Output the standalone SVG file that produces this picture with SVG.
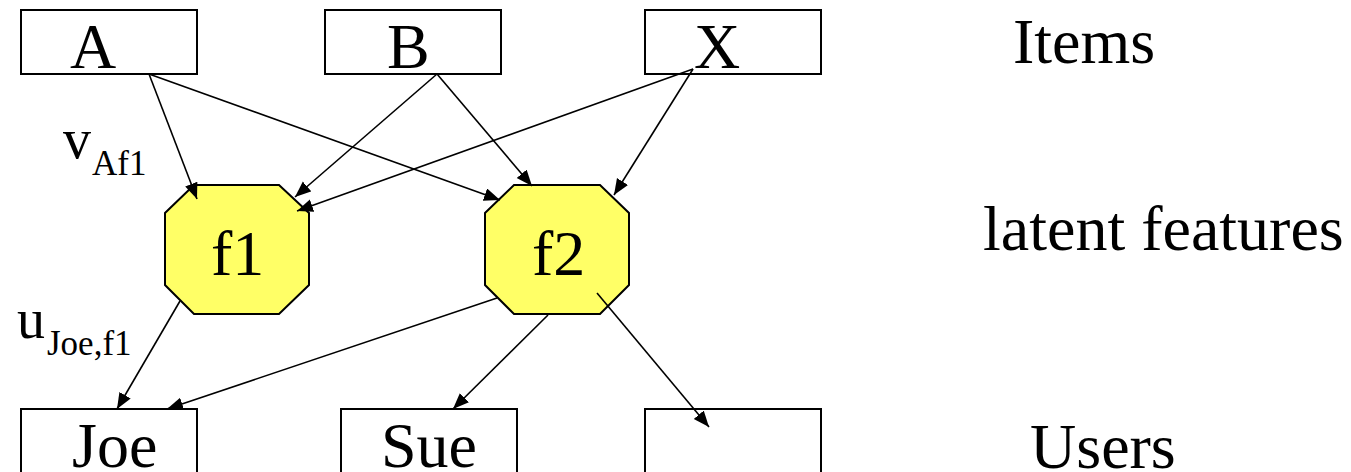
<svg xmlns="http://www.w3.org/2000/svg" width="1351" height="472" viewBox="0 0 1351 472">
<style>
.box{fill:none;stroke:#000;stroke-width:2}
.oct{fill:#FFFF66;stroke:#000;stroke-width:2}
.t{font-family:'Liberation Serif','Times New Roman',serif;font-size:64px;fill:#000}
.lab{font-family:'Liberation Serif','Times New Roman',serif;font-size:56px;fill:#000}
.sub{font-size:35px}
.edge{stroke:#000;stroke-width:1.6;fill:none;marker-end:url(#ah)}
</style>
<defs>
<marker id="ah" markerUnits="userSpaceOnUse" markerWidth="18" markerHeight="14" refX="16" refY="6.5" orient="auto">
<path d="M0,0 L16,6.5 L0,13 z" fill="#000"/>
</marker>
</defs>
<rect width="1351" height="472" fill="#fff"/>
<g id="A"><rect class="box" x="21" y="10" width="176" height="64"/><text class="t" x="70" y="68">A</text></g>
<g id="B"><rect class="box" x="325" y="10" width="176" height="64"/><text class="t" x="387" y="68">B</text></g>
<g id="X"><rect class="box" x="645" y="10" width="176" height="64"/><text class="t" x="694" y="68">X</text></g>
<g id="f1"><polygon class="oct" points="194,185 279,185 309,213 309,285 279,314 194,314 165,285 165,213"/><text class="t" x="211" y="275">f1</text></g>
<g id="f2"><polygon class="oct" points="514,185 600,185 629,213 629,285 600,314 514,314 485,285 485,213"/><text class="t" x="532" y="275">f2</text></g>
<g id="Joe"><rect class="box" x="21" y="409" width="176" height="70"/><text class="t" x="72" y="467">Joe</text></g>
<g id="Sue"><rect class="box" x="341" y="409" width="176" height="70"/><text class="t" x="381" y="467">Sue</text></g>
<g id="U3"><rect class="box" x="645" y="409" width="176" height="70"/></g>
<g id="connectors">
<line class="edge" x1="149" y1="74" x2="197" y2="199"/>
<line class="edge" x1="149" y1="74" x2="500" y2="200"/>
<line class="edge" x1="437" y1="74" x2="295" y2="197"/>
<line class="edge" x1="437" y1="74" x2="532" y2="186"/>
<line class="edge" x1="693" y1="69" x2="297" y2="211"/>
<line class="edge" x1="693" y1="69" x2="614" y2="195"/>
<line class="edge" x1="180" y1="301" x2="117" y2="409"/>
<line class="edge" x1="497" y1="298" x2="167" y2="409"/>
<line class="edge" x1="548" y1="315" x2="453" y2="409"/>
<line class="edge" x1="597" y1="293" x2="709" y2="427"/>
</g>
<g id="labels">
<text class="lab" x="63" y="158">v<tspan class="sub" x="92" y="175">Af1</tspan></text>
<text class="lab" x="17" y="338">u<tspan class="sub" x="47" y="355">Joe,f1</tspan></text>
<text class="t" x="1013" y="63">Items</text>
<text class="t" x="983" y="250">latent features</text>
<text class="t" x="1030" y="468">Users</text>
</g>
</svg>
